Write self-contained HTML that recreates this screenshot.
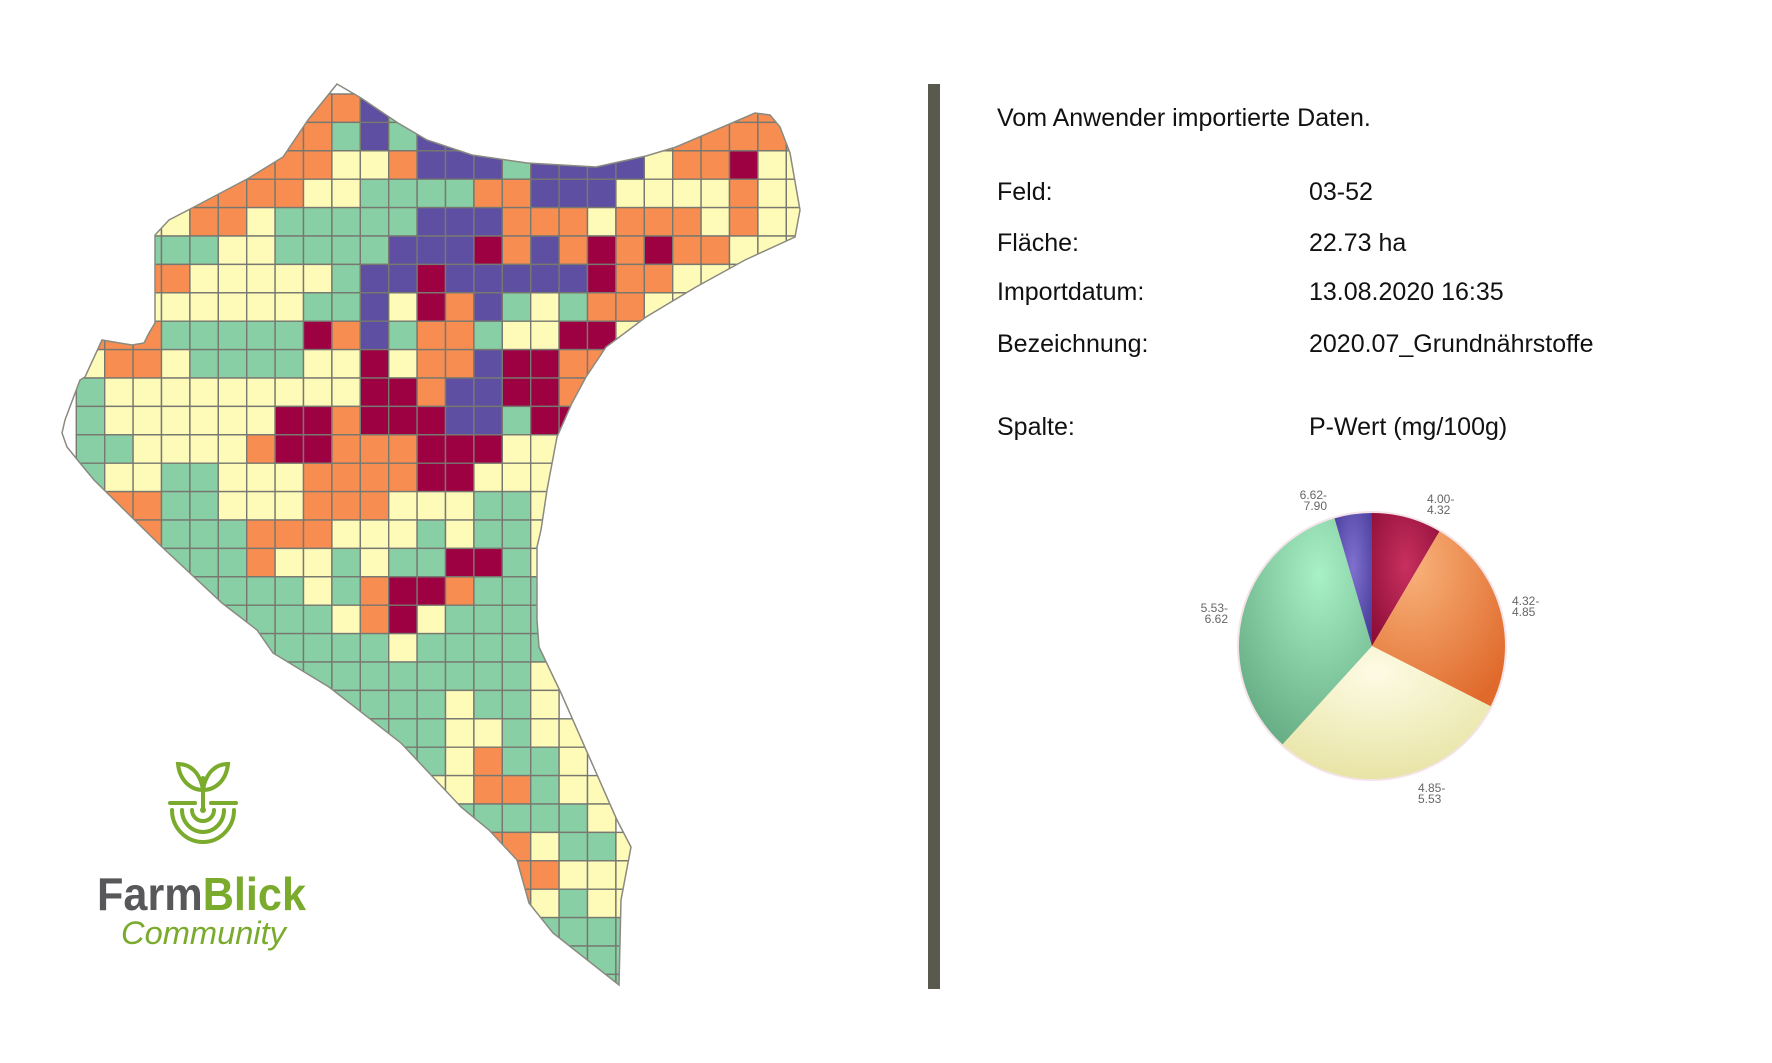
<!DOCTYPE html>
<html><head><meta charset="utf-8">
<style>
html,body{margin:0;padding:0;background:#fff;}
svg{display:block;}
</style></head>
<body>
<svg id="s" width="1772" height="1063" viewBox="0 0 1772 1063" xmlns="http://www.w3.org/2000/svg">
<defs>
<clipPath id="field">
<polygon id="outl" points="337,84 361,98 398,123 427,140 472,155 527,163 596,167 646,156 676,147 755,113 770,115 780,127 790,153 800,210 795,237 745,260 696,287 646,317 606,347 586,377 572,403 557,437 547,490 541,530 537,547 537,620 539,647 561,693 617,820 631,847 621,900 619,985 553,933 529,903 517,860 489,830 461,807 401,743 329,687 273,653 257,630 222,603 162,547 94,480 80,463 67,447 62,433 65,420 80,380 85,377 102,340 132,345 144,343 149,333 155,323 155,235 169,220 194,207 249,178 283,157 308,120"/>
</clipPath>
<radialGradient id="gR" cx="0.5" cy="0.4" r="0.7"><stop offset="0" stop-color="#c8305f"/><stop offset="1" stop-color="#8e0d38"/></radialGradient>
<radialGradient id="gO" cx="0.3" cy="0.2" r="0.9"><stop offset="0" stop-color="#f8b27a"/><stop offset="1" stop-color="#e06a2c"/></radialGradient>
<radialGradient id="gY" cx="0.45" cy="0.2" r="0.8"><stop offset="0" stop-color="#fdfbe4"/><stop offset="1" stop-color="#e8e4a6"/></radialGradient>
<radialGradient id="gG" cx="0.6" cy="0.25" r="0.85"><stop offset="0" stop-color="#a8f0c6"/><stop offset="1" stop-color="#62a880"/></radialGradient>
<radialGradient id="gP" cx="0.5" cy="0.4" r="0.8"><stop offset="0" stop-color="#8070d0"/><stop offset="1" stop-color="#3e3490"/></radialGradient>
</defs>
<g id="cells" clip-path="url(#field)"></g>
<use href="#outl" fill="none" stroke="#8a8a80" stroke-width="1.5"/>

<!-- divider -->
<rect x="928" y="84" width="12" height="905" fill="#5a594e"/>

<!-- text -->
<g font-family="Liberation Sans, Arial, sans-serif" font-size="25" fill="#111">
<text x="997" y="126">Vom Anwender importierte Daten.</text>
<text x="997" y="200">Feld:</text><text x="1309" y="200">03-52</text>
<text x="997" y="251">Fläche:</text><text x="1309" y="251">22.73 ha</text>
<text x="997" y="300">Importdatum:</text><text x="1309" y="300">13.08.2020 16:35</text>
<text x="997" y="352">Bezeichnung:</text><text x="1309" y="352">2020.07_Grundnährstoffe</text>
<text x="997" y="435">Spalte:</text><text x="1309" y="435">P-Wert (mg/100g)</text>
</g>

<!-- pie -->
<circle cx="1372" cy="646" r="135" fill="#f4e4e8"/>
<path d="M1372,646 L1372,513 A133,133 0 0 1 1439.5,531.4 Z" fill="url(#gR)"/>
<path d="M1372,646 L1439.5,531.4 A133,133 0 0 1 1490.6,706.2 Z" fill="url(#gO)"/>
<path d="M1372,646 L1490.6,706.2 A133,133 0 0 1 1282.5,744.4 Z" fill="url(#gY)"/>
<path d="M1372,646 L1282.5,744.4 A133,133 0 0 1 1334.5,518.4 Z" fill="url(#gG)"/>
<path d="M1372,646 L1334.5,518.4 A133,133 0 0 1 1372,513 Z" fill="url(#gP)"/>
<g font-family="Liberation Sans, Arial, sans-serif" font-size="12" fill="#666">
<text x="1327" y="499" text-anchor="end">6.62-</text><text x="1327" y="510" text-anchor="end">7.90</text>
<text x="1427" y="503">4.00-</text><text x="1427" y="514">4.32</text>
<text x="1512" y="605">4.32-</text><text x="1512" y="616">4.85</text>
<text x="1228" y="612" text-anchor="end">5.53-</text><text x="1228" y="623" text-anchor="end">6.62</text>
<text x="1418" y="792">4.85-</text><text x="1418" y="803">5.53</text>
</g>

<!-- logo -->
<g fill="none" stroke="#7aab2d" stroke-width="4" stroke-linecap="round">
<line x1="203" y1="778" x2="203" y2="808"/>
<path d="M203,790 C192,790 180,782 178,764 C190,764 200,772 203,790"/>
<path d="M203,790 C214,790 226,782 228,764 C216,764 206,772 203,790"/>
<line x1="170" y1="803" x2="195" y2="803"/>
<line x1="211" y1="803" x2="236" y2="803"/>
<path d="M172,810 A31,32 0 0 0 234,810"/>
<path d="M182,810 A21,22 0 0 0 224,810"/>
<path d="M192,810 A11,11 0 0 0 214,810"/>
</g>
<circle cx="203" cy="810" r="3" fill="#7aab2d"/>
<text x="97" y="910" font-family="Liberation Sans, Arial, sans-serif" font-size="46" font-weight="bold" textLength="209" lengthAdjust="spacingAndGlyphs"><tspan fill="#58585a">Farm</tspan><tspan fill="#7aab2d">Blick</tspan></text>
<text x="121" y="944" font-family="Liberation Sans, Arial, sans-serif" font-size="32" font-style="italic" fill="#7aab2d" textLength="165" lengthAdjust="spacingAndGlyphs">Community</text>
</svg>
<script>
var rows=[
".......OOOPG..........OOOO",
"......OOOGPGPPPGPPPPOOOOOO",
".....OOOOYYOPPPGPPPPYOORYY",
"...OOOOOYYGGGGOOPPPYYYYOYY",
"..YYOOYGGGGGPPPOOOYOOOYOYY",
"..GGGYYGGGGPPPROPOROROOYYY",
"..OOYYYYYGPPRPPPPPROOYYYY.",
"..YYYYYYGGPYROPGYGOOYYY...",
"OOOGGGGGROPGOOGYYRRYY.....",
"YOOYGGGGYYRYOOPRROOO......",
"GYYYYYYYYYRROPPRROO.......",
"GYYYYYYRRORRRPPGRR........",
"GGYYYYORROOORRRYYY........",
"GYYGGYYYOOOORRYYYY........",
"GOOGGYYYOOOYYYGGY.........",
".OOGGGOOOYYYGYGGY.........",
"..GGGGOYYGYGGRRGY.........",
"...GGGGGYGORROGGG.........",
"....GGGGGYORYGGGG.........",
".....GGGGGGYGGGGG.........",
"......GGGGGGGGGGY.........",
".......GGGGGGYGGY.........",
".........GGGGYYGYY........",
"..........GGGYOGGY........",
"...........YYYOOGYY.......",
"............GGGGGGY.......",
"..............OOYGGY......",
"...............OOYYY......",
"...............OYGYY......",
"...............GGGGG......",
"................GGGG......",
".................GGG......"];
var col={O:"#f88d52",Y:"#fefbb9",G:"#89cfa5",P:"#5e4fa2",R:"#9e0142"};
var s=28.4,x0=76.3,y0=94,h="";
for(var i=0;i<rows.length;i++){for(var j=0;j<rows[i].length;j++){var c=rows[i][j];if(c==".")continue;
h+='<rect x="'+(x0+j*s).toFixed(1)+'" y="'+(y0+i*s).toFixed(1)+'" width="'+s+'" height="'+s+'" fill="'+col[c]+'" stroke="#777870" stroke-width="1.4"/>';}}
document.getElementById("cells").innerHTML=h;
</script>
</body></html>
